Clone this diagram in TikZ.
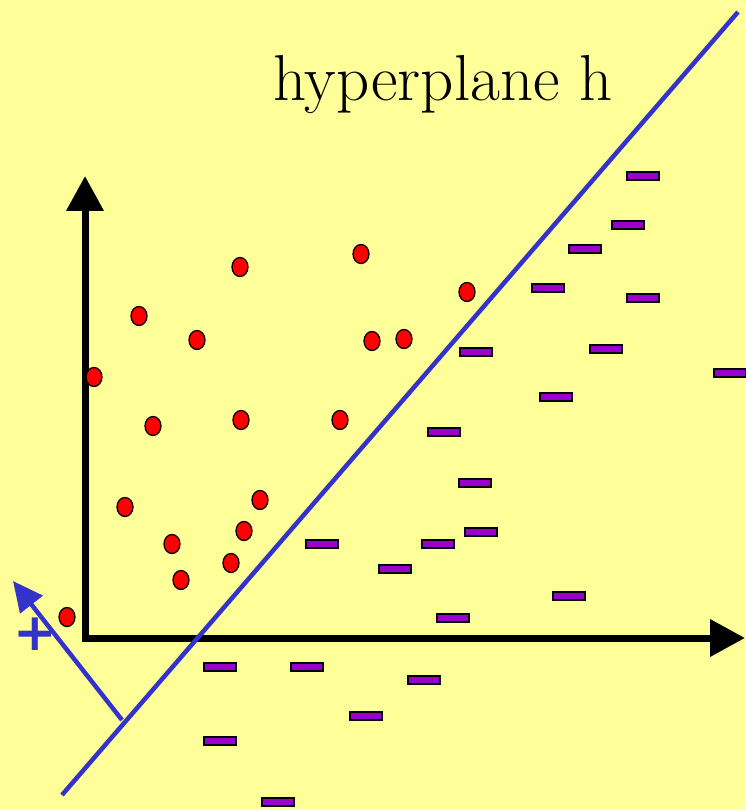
\documentclass[tikz,border=0pt]{standalone}
\usepackage{fontspec}
\newfontfamily\plusfont{DejaVu Sans}
\usetikzlibrary{arrows.meta,shapes.geometric}
\definecolor{bgyellow}{HTML}{FFFF99}
\definecolor{hblue}{HTML}{3333CC}
\definecolor{dotred}{HTML}{FF0000}
\definecolor{dashpurple}{HTML}{9900CC}
\tikzset{
  reddot/.style={ellipse, draw=black, line width=1.3pt, fill=dotred, minimum width=16pt, minimum height=19pt, inner sep=0pt},
  purpledash/.style={rectangle, draw=black, line width=1.3pt, fill=dashpurple, minimum width=32pt, minimum height=8pt, inner sep=0pt},
  axisline/.style={line width=7pt, line join=miter},
  planeline/.style={hblue, line width=4.5pt}
}
\begin{document}
\begin{tikzpicture}[x=1pt,y=-1pt]
\fill[bgyellow] (0,0) rectangle (745,810);
\useasboundingbox (0,0) rectangle (745,810);

% title
\node[anchor=base, inner sep=0pt, font=\fontsize{65}{70}\selectfont] (title) at (443,101) {hyperplane h};

% axes
\coordinate (ytip) at (85,176);
\coordinate (origin) at (85,638);
\coordinate (xtip) at (745,638);
\draw[axisline, {Triangle[length=35pt,width=36pt]}-{Triangle[length=35pt,width=36pt]}] (ytip) -- (origin) -- (xtip);

% red dots
\foreach \i/\x/\y in {1/240/267, 2/361/254, 3/139/316, 4/197/340, 5/467/292, 6/372/341, 7/404/339, 8/94/377, 9/153/426, 10/241/420, 11/340/420, 12/125/507, 13/260/500, 14/244/531, 15/172/544, 16/231/563, 17/181/580, 18/67/617}
  \node[reddot] (r\i) at (\x,\y) {};

% purple dashes
\foreach \i/\x/\y in {1/643/176, 2/628/225, 3/585/249, 4/548/288, 5/643/298, 6/476/352, 7/606/349, 8/730/373, 9/556/397, 10/444/432, 11/475/483, 12/481/532, 13/438/544, 14/322/544, 15/395/569, 16/569/596, 17/453/618, 18/220/667, 19/307/667, 20/424/680, 21/366/716, 22/220/741, 23/278/802}
  \node[purpledash] (m\i) at (\x,\y) {};

% hyperplane
\coordinate (hA) at (62,795);
\coordinate (hB) at (738,12);
\draw[planeline] (hA) -- (hB);

% normal vector
\coordinate (foot) at (122,720);
\coordinate (ntip) at (13,581);
\draw[planeline, -{Triangle[length=30pt,width=28pt]}] (foot) -- (ntip);

% plus sign
\node[hblue, inner sep=0pt, font=\plusfont\bfseries\fontsize{52}{52}\selectfont] (plus) at (35,634) {+};
\end{tikzpicture}
\end{document}
